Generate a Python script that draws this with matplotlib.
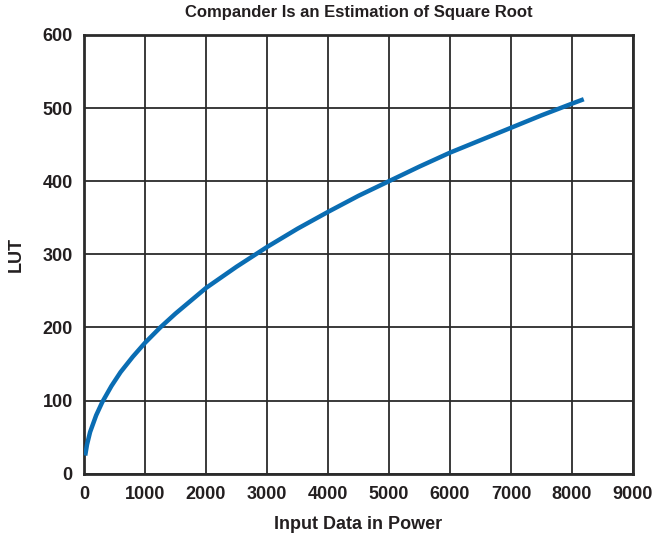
import matplotlib
matplotlib.use("Agg")
import matplotlib.pyplot as plt

# ── Data ──────────────────────────────────────────────────────────────────────
input_power = [20, 50, 100, 200, 300, 450, 600, 800, 1000, 1250, 1500, 2000,
               2500, 3000, 3500, 4000, 4500, 5000, 5500, 6000, 6500, 7000,
               7500, 8000, 8192]
lut_value   = [25, 40, 57, 80, 98, 120, 139, 160, 179, 200, 219, 254,
               283, 310, 335, 358, 380, 400, 420, 439, 456, 473,
               490, 506, 512]

x_ticks = [0, 1000, 2000, 3000, 4000, 5000, 6000, 7000, 8000, 9000]
y_ticks = [0, 100, 200, 300, 400, 500, 600]

# ── Style ─────────────────────────────────────────────────────────────────────
plt.rcParams.update({
    "font.family": ["Liberation Sans", "DejaVu Sans"],
    "font.weight": "bold",
})
TEXT = "#231f20"
LINE = "#0a6db3"

fig = plt.figure(figsize=(6.56, 5.36), dpi=100)
ax = fig.add_axes([0.128, 0.116, 0.837, 0.819])

ax.plot(input_power, lut_value, color=LINE, linewidth=3.2,
        solid_capstyle="butt", solid_joinstyle="round", zorder=3)

ax.set_xlim(0, 9000)
ax.set_ylim(0, 600)
ax.set_xticks(x_ticks)
ax.set_yticks(y_ticks)
ax.tick_params(axis="x", length=0, pad=9, labelsize=13, colors=TEXT)
ax.tick_params(axis="y", length=0, pad=8, labelsize=13, colors=TEXT)
for lbl in ax.get_xticklabels() + ax.get_yticklabels():
    lbl.set_fontweight("bold")

ax.grid(True, color="#2b2b2b", linewidth=1.3)
ax.set_axisbelow(True)
for s in ax.spines.values():
    s.set_color("#2b2b2b")
    s.set_linewidth(2)

ax.set_xlabel("Input Data in Power", fontsize=13, fontweight="bold",
              color=TEXT, labelpad=9)
ax.set_ylabel("LUT", fontsize=13, fontweight="bold", color=TEXT, labelpad=13)
ax.set_title("Compander Is an Estimation of Square Root", fontsize=12,
             fontweight="bold", color=TEXT, pad=13)

fig.savefig("out.png", dpi=100, facecolor="white")
